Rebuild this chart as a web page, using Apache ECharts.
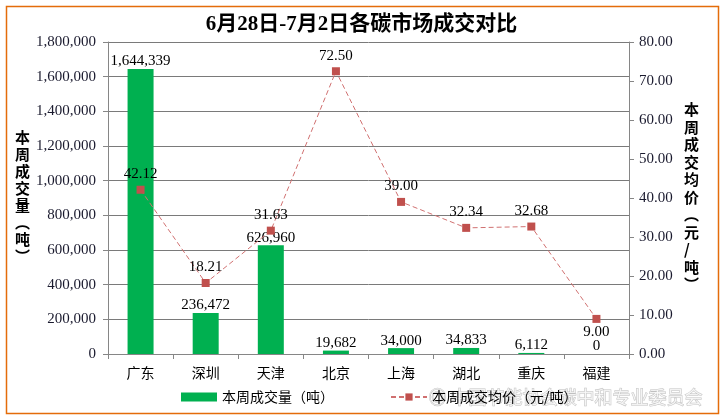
<!DOCTYPE html>
<html><head><meta charset="utf-8">
<script src="https://cdn.jsdelivr.net/npm/echarts@6/dist/echarts.min.js"></script>
<style>html,body{margin:0;padding:0;background:#fff}#c{width:723px;height:418px}</style>
</head><body><div id="c"></div>
<script>
const categories = ['广东','深圳','天津','北京','上海','湖北','重庆','福建'];
const volumes = [1644339, 236472, 626960, 19682, 34000, 34833, 6112, 0];
const prices = [42.12, 18.21, 31.63, 72.50, 39.00, 32.34, 32.68, 9.00];
const volumeTicks = [0, 1800000, 200000];
const priceTicks = [0, 80, 10];
const titleText = '6月28日-7月2日各碳市场成交对比';
const volName = '本周成交量（吨）';
const priceName = '本周成交均价（元/吨）';
const leftAxisName = ['本','周','成','交','量','︵','吨','︶'];
const rightAxisName = ['本','周','成','交','均','价','︵','元','/','吨','︶'];
const watermark = '中国节能协会碳中和专业委员会';

const serif = "'Liberation Serif','Noto Sans CJK SC'";
const cjk = "'Noto Sans CJK SC','Liberation Sans'";
const chart = echarts.init(document.getElementById('c'), null, {renderer:'canvas'});
const fmtInt = v => Number(v).toLocaleString('en-US');
chart.setOption({
  animation:false,
  title:{text:titleText,left:'center',top:9,textStyle:{fontFamily:serif,fontWeight:'bold',fontSize:21,color:'#000'}},
  grid:{left:108,right:94,top:42,bottom:64},
  legend:{
    left:176,top:385,itemGap:56,itemWidth:36,itemHeight:9,
    textStyle:{fontFamily:cjk,fontSize:14,color:'#000'},
    data:[{name:volName,icon:'rect'},{name:priceName}]
  },
  xAxis:{type:'category',data:categories,
    axisLine:{lineStyle:{color:'#868686'}},
    axisTick:{show:true,length:5,lineStyle:{color:'#868686'}},
    axisLabel:{fontFamily:cjk,fontSize:14,color:'#000',margin:12}},
  yAxis:[
    {type:'value',min:volumeTicks[0],max:volumeTicks[1],interval:volumeTicks[2],
     axisLine:{show:true,lineStyle:{color:'#868686'}},
     axisTick:{show:true,length:5,lineStyle:{color:'#868686'}},
     splitLine:{lineStyle:{color:'#7a7a7a',width:1}},
     axisLabel:{fontFamily:serif,fontSize:15,color:'#1a1a2e',margin:12,formatter:v=>fmtInt(v)}},
    {type:'value',min:priceTicks[0],max:priceTicks[1],interval:priceTicks[2],
     axisLine:{show:true,lineStyle:{color:'#868686'}},
     axisTick:{show:true,length:5,lineStyle:{color:'#868686'}},
     splitLine:{show:false},
     axisLabel:{fontFamily:serif,fontSize:15,color:'#1a1a2e',margin:10,formatter:v=>v.toFixed(2)}}
  ],
  series:[
    {name:volName,type:'bar',yAxisIndex:0,data:volumes,barWidth:26,
     itemStyle:{color:'#00B050'},
     label:{show:true,position:'top',distance:0,fontFamily:serif,fontSize:15,color:'#000',formatter:p=>fmtInt(p.value)}},
    {name:priceName,type:'line',yAxisIndex:1,
     data:prices.map((v,i)=> i===prices.length-1 ? {value:v,label:{position:'bottom',distance:2}} : v),
     symbol:'rect',symbolSize:8,
     lineStyle:{color:'#D07070',width:1,type:[5,3]},
     itemStyle:{color:'#C0504D'},
     label:{show:true,position:'top',distance:4,fontFamily:serif,fontSize:15,color:'#000',formatter:p=>Number(p.value).toFixed(2)}}
  ],
  graphic:[
    {type:'rect',left:4,top:4,shape:{width:712,height:407},style:{fill:'none',stroke:'#E46C0A',lineWidth:1.5},silent:true},
    {type:'text',left:15,top:129,style:{text:leftAxisName.join('\n'),font:"bold 15px 'Noto Sans CJK SC'",fill:'#000',lineHeight:17,align:'center'}},
    {type:'text',left:684,top:101,style:{text:rightAxisName.join('\n'),font:"bold 15px 'Noto Sans CJK SC'",fill:'#000',lineHeight:17.5,align:'center'}},
    {type:'text',left:428,top:388,style:{text:'◎ '+watermark,font:"18px 'Noto Sans CJK SC'",fill:'rgba(255,255,255,0.75)',stroke:'rgba(150,150,150,0.6)',lineWidth:1}}
  ]
});
</script></body></html>
